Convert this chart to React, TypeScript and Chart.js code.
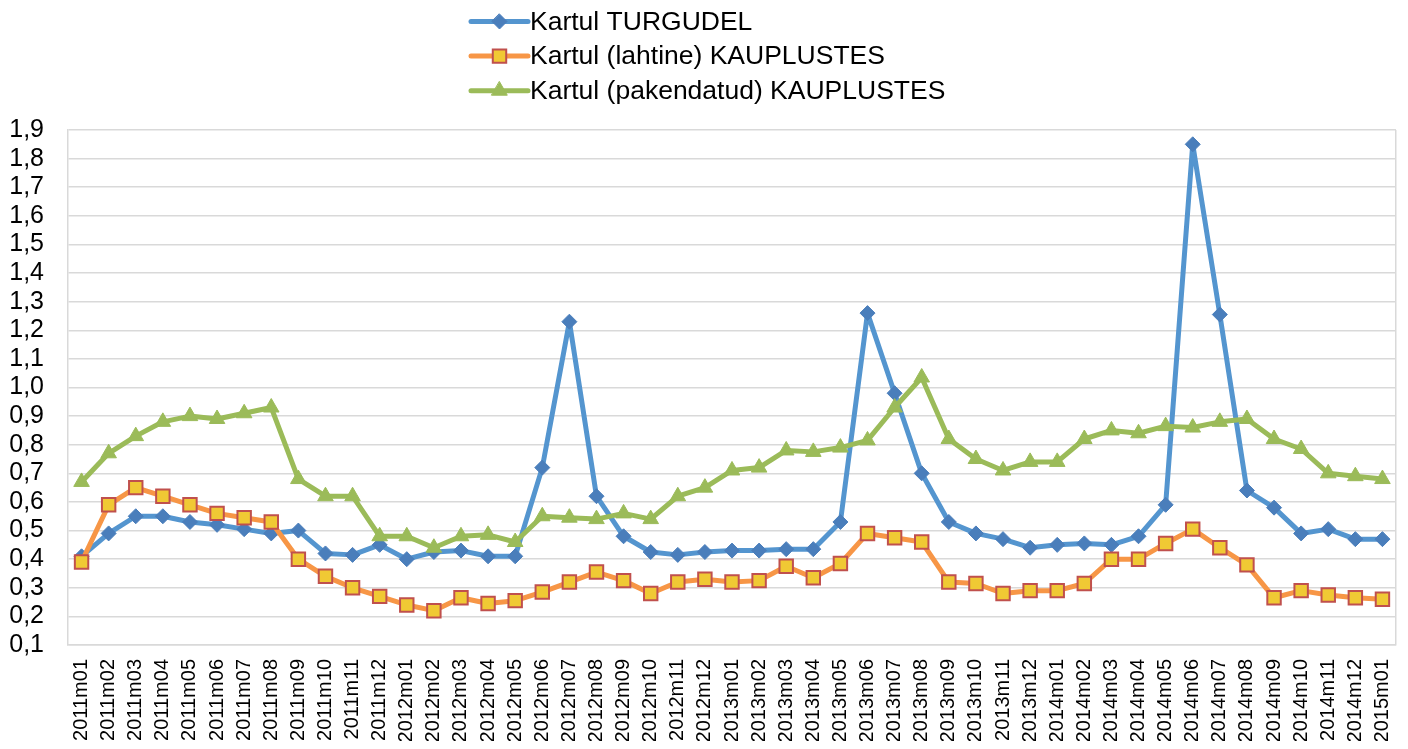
import React, { useEffect, useRef } from 'react';
import { Chart, registerables } from 'chart.js';

Chart.register(...registerables);

const categories = [
  '2011m01', '2011m02', '2011m03', '2011m04', '2011m05', '2011m06', '2011m07', '2011m08', '2011m09', '2011m10', '2011m11', '2011m12',
  '2012m01', '2012m02', '2012m03', '2012m04', '2012m05', '2012m06', '2012m07', '2012m08', '2012m09', '2012m10', '2012m11', '2012m12',
  '2013m01', '2013m02', '2013m03', '2013m04', '2013m05', '2013m06', '2013m07', '2013m08', '2013m09', '2013m10', '2013m11', '2013m12',
  '2014m01', '2014m02', '2014m03', '2014m04', '2014m05', '2014m06', '2014m07', '2014m08', '2014m09', '2014m10', '2014m11', '2014m12',
  '2015m01',
];

const turgudel = [
  0.41, 0.49, 0.55, 0.55, 0.53, 0.52, 0.505, 0.49, 0.50, 0.42, 0.415, 0.45,
  0.40, 0.425, 0.43, 0.41, 0.41, 0.72, 1.23, 0.62, 0.48, 0.425, 0.415, 0.425,
  0.43, 0.43, 0.435, 0.435, 0.53, 1.26, 0.98, 0.70, 0.53, 0.49, 0.47, 0.44,
  0.45, 0.455, 0.45, 0.48, 0.59, 1.85, 1.255, 0.64, 0.58, 0.49, 0.505, 0.47,
  0.47,
];

const lahtine = [
  0.39, 0.59, 0.65, 0.62, 0.59, 0.56, 0.545, 0.53, 0.40, 0.34, 0.30, 0.27,
  0.24, 0.22, 0.265, 0.245, 0.255, 0.285, 0.32, 0.355, 0.325, 0.28, 0.32, 0.33,
  0.32, 0.325, 0.375, 0.335, 0.385, 0.49, 0.475, 0.46, 0.32, 0.315, 0.28, 0.29,
  0.29, 0.315, 0.40, 0.40, 0.455, 0.505, 0.44, 0.38, 0.265, 0.29, 0.275, 0.265,
  0.26,
];

const pakendatud = [
  0.67, 0.77, 0.83, 0.88, 0.90, 0.89, 0.91, 0.93, 0.68, 0.62, 0.62, 0.48,
  0.48, 0.44, 0.48, 0.485, 0.46, 0.55, 0.545, 0.54, 0.56, 0.54, 0.62, 0.65,
  0.71, 0.72, 0.78, 0.775, 0.79, 0.815, 0.93, 1.035, 0.82, 0.75, 0.71, 0.74,
  0.74, 0.82, 0.85, 0.84, 0.865, 0.86, 0.88, 0.89, 0.82, 0.785, 0.70, 0.69,
  0.68,
];

const seriesNames = [
  'Kartul TURGUDEL',
  'Kartul (lahtine) KAUPLUSTES',
  'Kartul (pakendatud) KAUPLUSTES',
];

const Y_MIN = 0.1;
const Y_MAX = 1.9;
const Y_STEP = 0.1;

const FONT = '"Liberation Sans", Arial, sans-serif';
const GRID = '#d9d9d9';

const styles = [
  { line: '#5495cf', fill: '#4a7ebb', stroke: '#4a7ebb', shape: 'rectRot', radius: 7.5, bw: 1 },
  { line: '#f79646', fill: '#f0c934', stroke: '#c0504d', shape: 'rect', radius: 9.5, bw: 2 },
  { line: '#9bbb59', fill: '#9bbb59', stroke: '#9bbb59', shape: 'triangle', radius: 9, bw: 1 },
];

function drawMarker(ctx: CanvasRenderingContext2D, shape: string, x: number, y: number, r: number) {
  ctx.beginPath();
  if (shape === 'rectRot') {
    ctx.moveTo(x, y - r);
    ctx.lineTo(x + r, y);
    ctx.lineTo(x, y + r);
    ctx.lineTo(x - r, y);
  } else if (shape === 'rect') {
    const s = Math.SQRT1_2 * r;
    ctx.rect(x - s, y - s, 2 * s, 2 * s);
  } else {
    const a = (2 * Math.PI) / 3;
    ctx.moveTo(x, y - r);
    ctx.lineTo(x + Math.sin(a) * r, y - Math.cos(a) * r);
    ctx.lineTo(x + Math.sin(2 * a) * r, y - Math.cos(2 * a) * r);
  }
  ctx.closePath();
}

const legendPlugin = {
  id: 'stackedLegend',
  afterDraw(chart: any) {
    const ctx: CanvasRenderingContext2D = chart.ctx;
    const x0 = 463;
    const x1 = 520;
    const xm = (x0 + x1) / 2;
    const yStart = 13.5;
    const dy = 34.6;
    ctx.save();
    seriesNames.forEach((name, i) => {
      const st = styles[i];
      const y = yStart + i * dy;
      ctx.strokeStyle = st.line;
      ctx.lineWidth = 5;
      ctx.lineCap = 'round';
      ctx.beginPath();
      ctx.moveTo(x0, y);
      ctx.lineTo(x1, y);
      ctx.stroke();
      drawMarker(ctx, st.shape, xm, y, st.radius);
      ctx.fillStyle = st.fill;
      ctx.fill();
      ctx.lineWidth = st.bw;
      ctx.strokeStyle = st.stroke;
      ctx.stroke();
      ctx.fillStyle = '#000';
      ctx.font = `26.5px ${FONT}`;
      ctx.textAlign = 'left';
      ctx.textBaseline = 'middle';
      ctx.fillText(name, 522, y + 1);
    });
    ctx.restore();
  },
};

export default function App() {
  const ref = useRef<HTMLCanvasElement | null>(null);

  useEffect(() => {
    if (!ref.current) return;
    const seriesData = [turgudel, lahtine, pakendatud];
    const chart = new Chart(ref.current, {
      type: 'line',
      data: {
        labels: categories,
        datasets: seriesData.map((d, i) => ({
          label: seriesNames[i],
          data: d,
          borderColor: styles[i].line,
          backgroundColor: styles[i].fill,
          borderWidth: 5,
          borderJoinStyle: 'round' as const,
          borderCapStyle: 'round' as const,
          tension: 0,
          pointStyle: styles[i].shape as any,
          pointRadius: styles[i].radius,
          pointBackgroundColor: styles[i].fill,
          pointBorderColor: styles[i].stroke,
          pointBorderWidth: styles[i].bw,
          order: 2 - i,
        })),
      },
      options: {
        animation: false,
        responsive: true,
        maintainAspectRatio: false,
        layout: { autoPadding: false, padding: { top: 122, right: 4, left: 0, bottom: 0 } },
        plugins: {
          legend: { display: false },
          tooltip: { enabled: false },
        },
        scales: {
          x: {
            type: 'category',
            offset: true,
            grid: {
              offset: true,
              drawTicks: false,
              lineWidth: 1.5,
              color: (c: any) => (c.type === 'scale' ? GRID : 'rgba(0,0,0,0)'),
            },
            border: { display: true, color: GRID, width: 1.5 },
            ticks: {
              autoSkip: false,
              minRotation: 90,
              maxRotation: 90,
              padding: 14,
              color: '#000',
              font: { family: FONT, size: 20 },
            },
            afterFit: (s: any) => {
              s.height = 96;
              s.paddingLeft = 0;
              s.paddingRight = 0;
            },
          },
          y: {
            type: 'linear',
            min: Y_MIN,
            max: Y_MAX,
            grid: { color: GRID, lineWidth: 1.5, drawTicks: false },
            border: { display: true, color: GRID, width: 1.5 },
            ticks: {
              stepSize: Y_STEP,
              autoSkip: false,
              padding: 24,
              color: '#000',
              font: { family: FONT, size: 25 },
              callback: (v: any) => Number(v).toFixed(1).replace('.', ','),
            },
            afterFit: (s: any) => {
              s.width = 60;
              s.paddingTop = 0;
              s.paddingBottom = 0;
            },
          },
        },
      },
      plugins: [legendPlugin],
    });
    return () => chart.destroy();
  }, []);

  return (
    <div style={{ width: 1392, height: 733, position: 'relative' }}>
      <canvas ref={ref} />
    </div>
  );
}
